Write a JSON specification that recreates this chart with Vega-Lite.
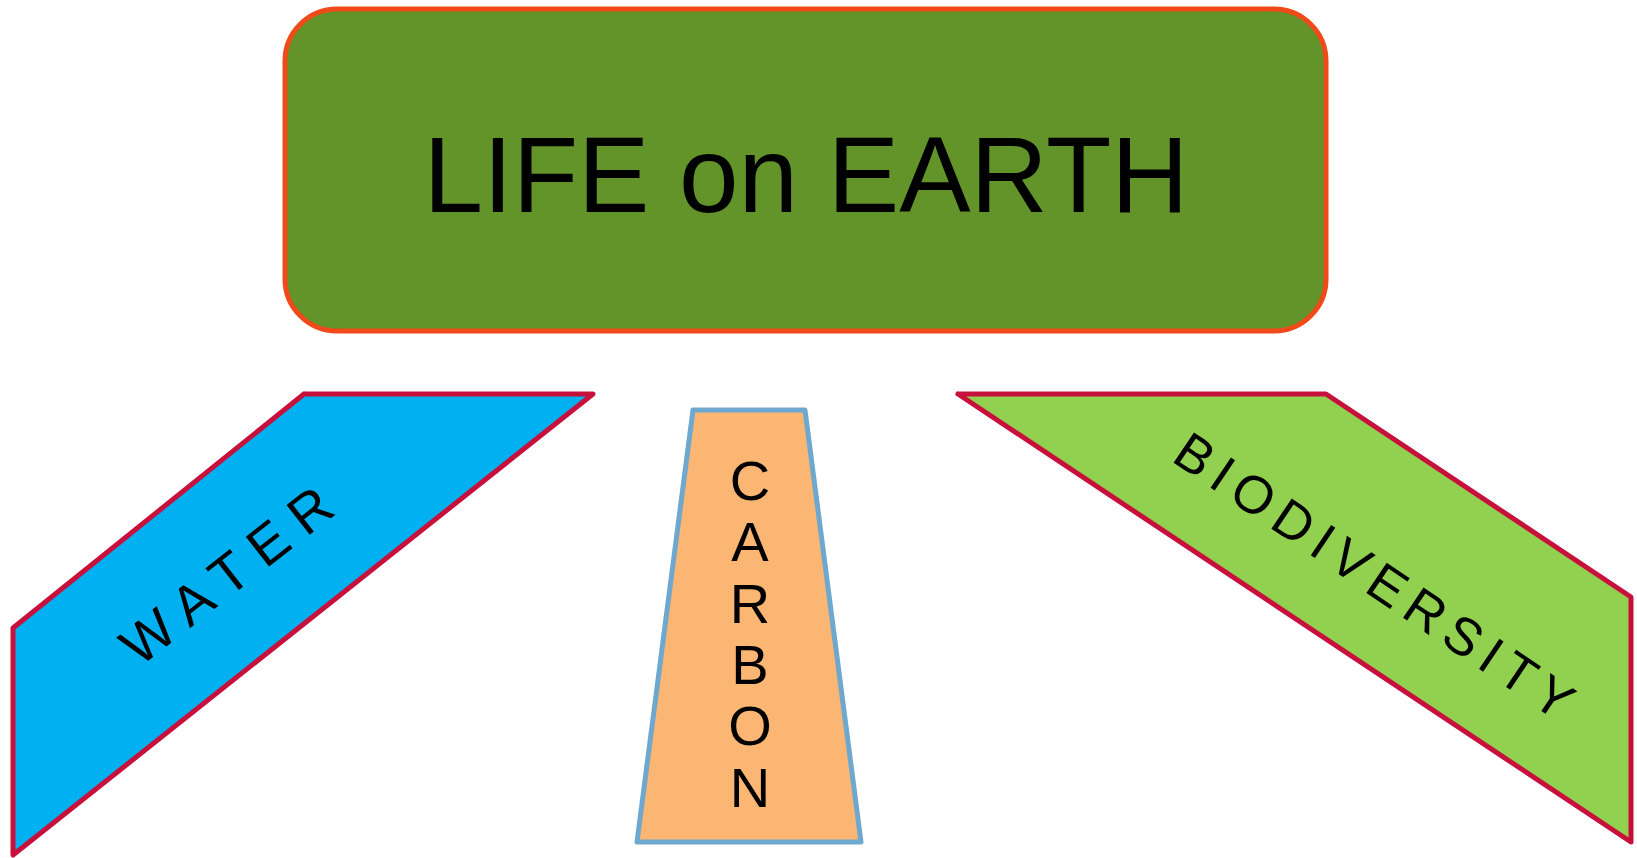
{
  "$schema": "https://vega.github.io/schema/vega-lite/v6.json",
  "width": 1637,
  "height": 858,
  "padding": 0,
  "autosize": {"type": "none"},
  "background": "white",
  "config": {"view": {"stroke": null}},
  "datasets": {
    "shapes": [
      {"shape": "water", "i": 0, "x": 304, "y": 394},
      {"shape": "water", "i": 1, "x": 593, "y": 394},
      {"shape": "water", "i": 2, "x": 13, "y": 855},
      {"shape": "water", "i": 3, "x": 13, "y": 628},
      {"shape": "water", "i": 4, "x": 304, "y": 394},
      {"shape": "carbon", "i": 0, "x": 693, "y": 410},
      {"shape": "carbon", "i": 1, "x": 805, "y": 410},
      {"shape": "carbon", "i": 2, "x": 861, "y": 842},
      {"shape": "carbon", "i": 3, "x": 637, "y": 842},
      {"shape": "carbon", "i": 4, "x": 693, "y": 410},
      {"shape": "bio", "i": 0, "x": 958, "y": 394},
      {"shape": "bio", "i": 1, "x": 1326, "y": 394},
      {"shape": "bio", "i": 2, "x": 1631, "y": 597},
      {"shape": "bio", "i": 3, "x": 1631, "y": 842},
      {"shape": "bio", "i": 4, "x": 958, "y": 394}
    ],
    "box": [{"x": 285, "x2": 1326, "y": 9, "y2": 331}],
    "labels": [
      {"name": "title", "text": "LIFE on EARTH", "x": 806, "y": 212},
      {"name": "carbon", "text": "C\nA\nR\nB\nO\nN", "x": 750, "y": 500},
      {"name": "water", "text": "W A T E R", "x": 228, "y": 577},
      {"name": "bio", "text": "B\u2006I\u2006O\u2006D\u2006I\u2006V\u2006E\u2006R\u2006S\u2006I\u2006T\u2006Y", "x": 1373, "y": 578}
    ]
  },
  "encoding": {
    "x": {"field": "x", "type": "quantitative", "scale": {"domain": [0, 1637], "nice": false, "zero": false}, "axis": null},
    "y": {"field": "y", "type": "quantitative", "scale": {"domain": [0, 858], "nice": false, "zero": false, "reverse": true}, "axis": null}
  },
  "layer": [
    {
      "data": {"name": "box"},
      "mark": {"type": "rect", "fill": "#629429", "stroke": "#f04a1a", "strokeWidth": 5, "cornerRadius": 52},
      "encoding": {"x2": {"field": "x2"}, "y2": {"field": "y2"}}
    },
    {
      "data": {"name": "shapes"},
      "transform": [{"filter": "datum.shape === 'water'"}],
      "mark": {"type": "line", "fill": "#00b0f0", "stroke": "#c8103c", "strokeWidth": 5, "strokeJoin": "round", "strokeCap": "round"},
      "encoding": {"order": {"field": "i", "type": "quantitative"}}
    },
    {
      "data": {"name": "shapes"},
      "transform": [{"filter": "datum.shape === 'carbon'"}],
      "mark": {"type": "line", "fill": "#fab672", "stroke": "#6ea8cf", "strokeWidth": 5, "strokeJoin": "round", "strokeCap": "round"},
      "encoding": {"order": {"field": "i", "type": "quantitative"}}
    },
    {
      "data": {"name": "shapes"},
      "transform": [{"filter": "datum.shape === 'bio'"}],
      "mark": {"type": "line", "fill": "#92d050", "stroke": "#c8103c", "strokeWidth": 5, "strokeJoin": "round", "strokeCap": "round"},
      "encoding": {"order": {"field": "i", "type": "quantitative"}}
    },
    {
      "data": {"name": "labels"},
      "transform": [{"filter": "datum.name === 'title'"}],
      "mark": {"type": "text", "font": "Liberation Sans", "fontSize": 107, "align": "center", "baseline": "alphabetic", "color": "black"},
      "encoding": {"text": {"field": "text"}}
    },
    {
      "data": {"name": "labels"},
      "transform": [{"filter": "datum.name === 'carbon'"}],
      "mark": {"type": "text", "font": "Liberation Sans", "fontSize": 56, "align": "center", "baseline": "alphabetic", "lineBreak": "\n", "lineHeight": 61.3, "color": "black"},
      "encoding": {"text": {"field": "text"}}
    },
    {
      "data": {"name": "labels"},
      "transform": [{"filter": "datum.name === 'water'"}],
      "mark": {"type": "text", "font": "Liberation Sans", "fontSize": 55, "align": "center", "baseline": "middle", "angle": -38, "color": "black"},
      "encoding": {"text": {"field": "text"}}
    },
    {
      "data": {"name": "labels"},
      "transform": [{"filter": "datum.name === 'bio'"}],
      "mark": {"type": "text", "font": "Liberation Sans", "fontSize": 53, "align": "center", "baseline": "middle", "angle": 34, "color": "black"},
      "encoding": {"text": {"field": "text"}}
    }
  ]
}
